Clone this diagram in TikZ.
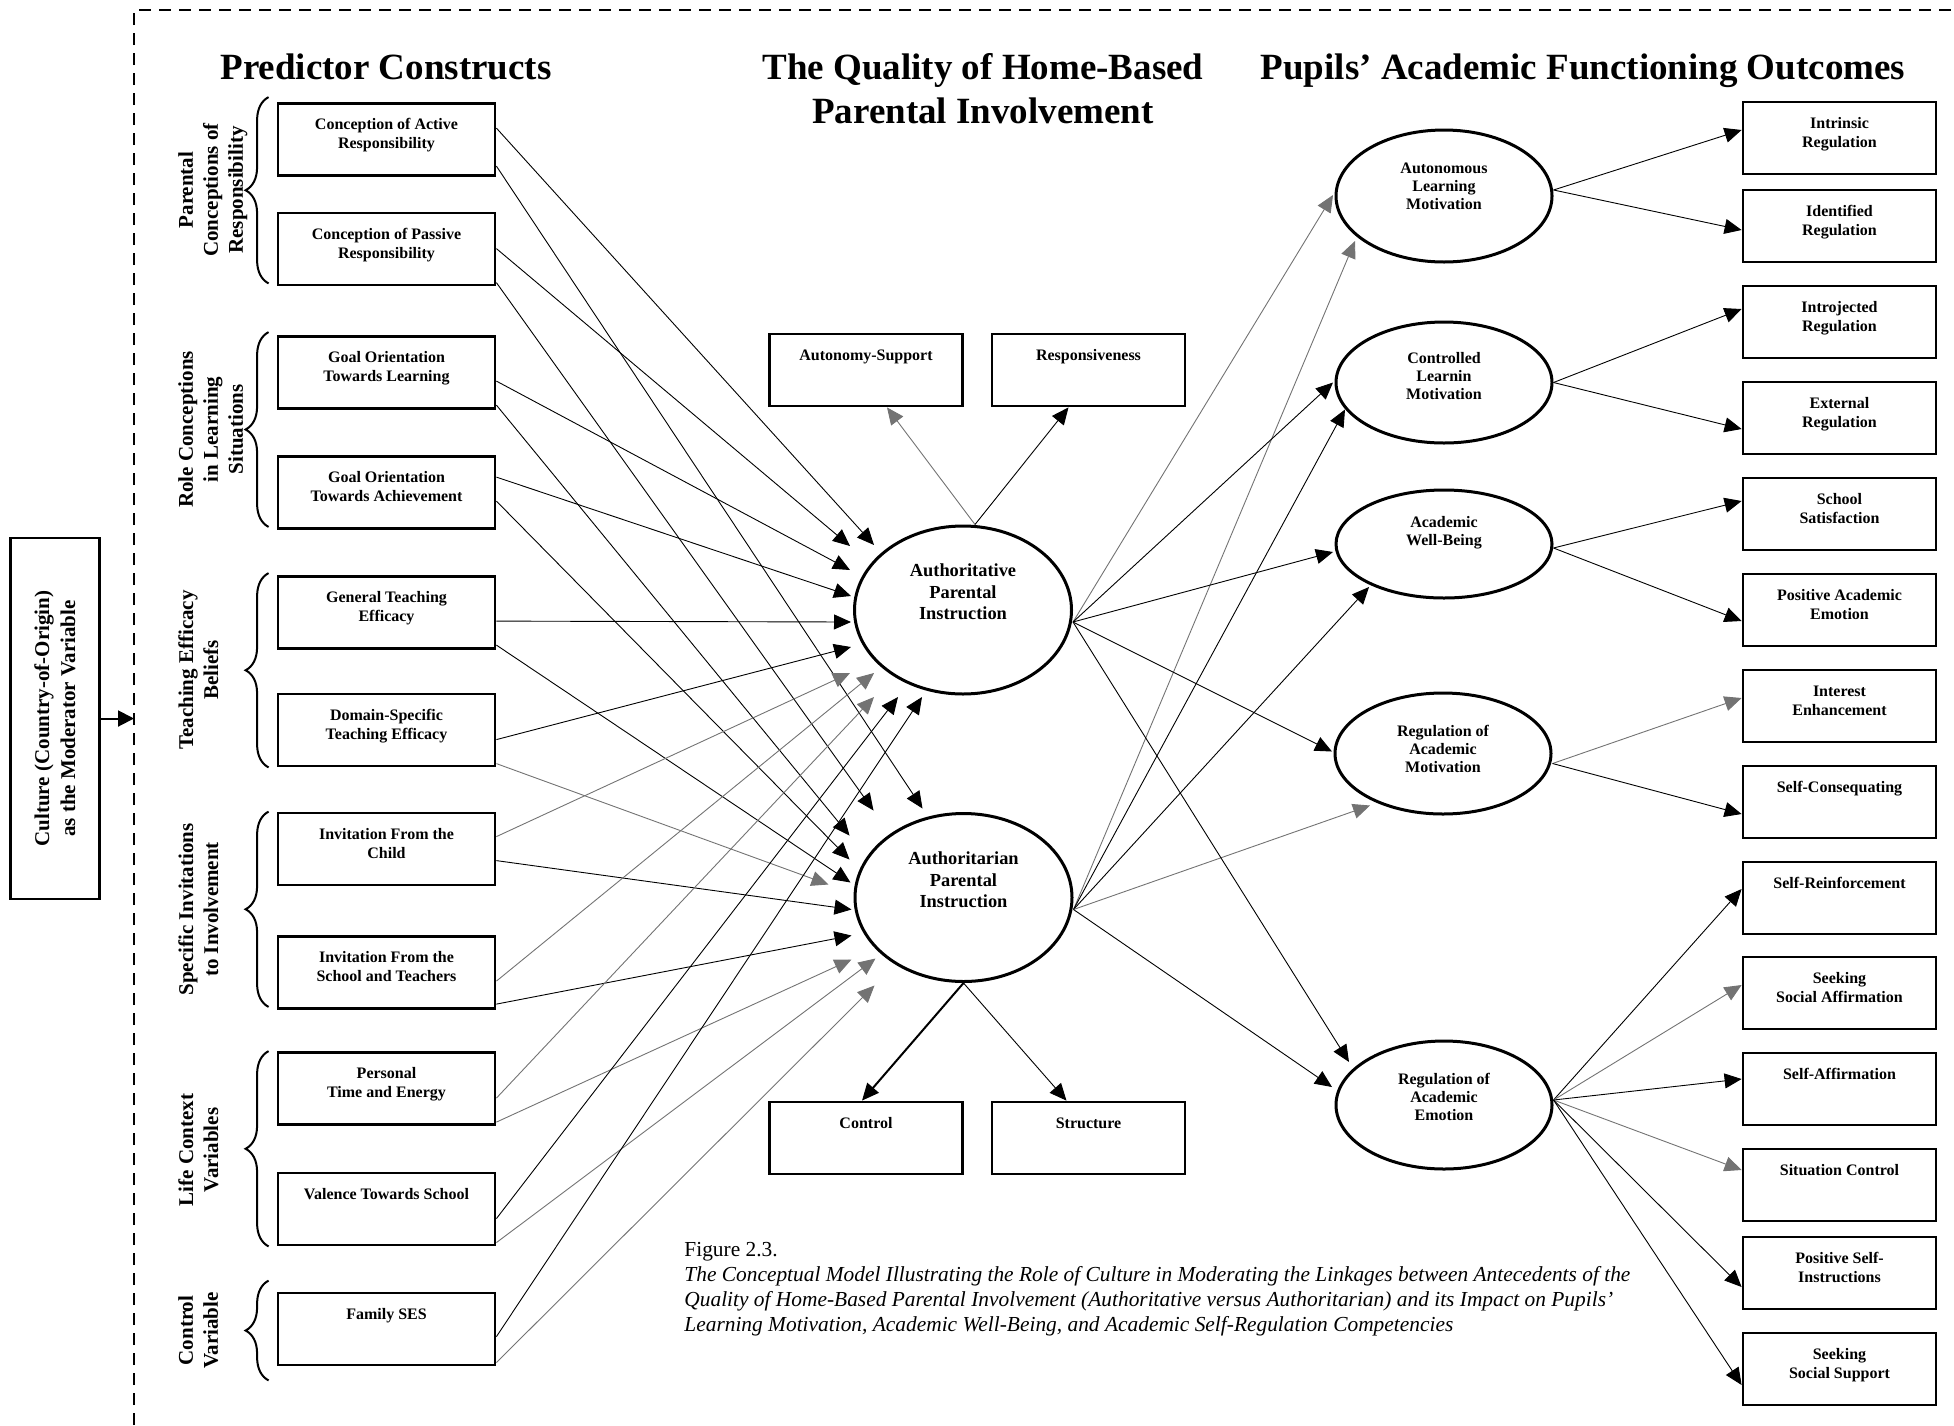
\documentclass[tikz,border=0pt]{standalone}
\usepackage{fontspec}
\setmainfont{Liberation Serif}
\usetikzlibrary{arrows.meta,positioning,calc,shapes.geometric,decorations.pathreplacing}

\begin{document}
\begin{tikzpicture}[x=0.5pt,y=-0.5pt,
    boxed/.style={draw,line width=1.4pt,inner sep=0pt,
      font=\bfseries\fontsize{8}{9.5}\selectfont,
      execute at begin node={\begin{minipage}[c][36pt][t]{#1}\centering\rule{0pt}{13pt}},
      execute at end node={\end{minipage}}},
    pbox/.style={boxed=108.5pt},
    obox/.style={boxed=96.5pt},
    bigell/.style={ellipse,draw,line width=1.5pt,inner sep=0pt,
      minimum width=108.5pt,minimum height=84pt},
    smell/.style={ellipse,draw,line width=1.5pt,inner sep=0pt,
      minimum width=108pt,minimum height=#1},
    biglbl/.style={font=\bfseries\fontsize{9.2}{10.8}\selectfont,align=center,inner sep=0pt},
    smlbl/.style={font=\bfseries\fontsize{8}{9}\selectfont,align=center,inner sep=0pt},
    ttl/.style={font=\bfseries\fontsize{18.5}{22}\selectfont,align=center,inner sep=0pt},
    grp/.style={rotate=90,anchor=north,align=center,inner sep=0pt,
      font=\bfseries\fontsize{10.5}{12.5}\selectfont},
    modbox/.style={draw,line width=1.4pt,rotate=90,minimum width=180.5pt,
      minimum height=44.5pt,align=center,inner sep=0pt,
      font=\bfseries\fontsize{10.5}{13}\selectfont},
    brc/.style={decorate,decoration={brace,amplitude=11.5pt},line width=1pt},
    link/.style={-{Triangle[length=8.5pt,width=7.5pt]},line width=0.45pt},
    faint/.style={link,draw=black!55},
    frame/.style={dash pattern=on 6pt off 4pt,line width=1pt},
  ]
  \useasboundingbox (0,0) rectangle (1954,1425);

  % moderator frame
  \draw[frame] (134,1425) -- (134,10) -- (1954,10);
  \node[modbox] (cul) at (55,718.5) {Culture (Country-of-Origin)\\as the Moderator Variable};
  \coordinate (mod) at (134,718.5);
  \draw[link,line width=1pt,-{Triangle[length=8pt,width=8pt]}] (cul.south) -- (mod);

  % titles
  \node[ttl,anchor=base] (t1) at (386,79) {Predictor Constructs};
  \node[ttl,anchor=north] (t2) at (983,53) {The Quality of Home-Based\\Parental Involvement};
  \node[ttl,anchor=base] (t3) at (1583,79) {Pupils’ Academic Functioning Outcomes};

  % predictor constructs
  \node[pbox] (b1) at (386.5,139.5) {Conception of Active\\Responsibility};
  \node[pbox] (b2) at (386.5,249) {Conception of Passive\\Responsibility};
  \node[pbox] (b3) at (386.5,372.5) {Goal Orientation\\Towards Learning};
  \node[pbox] (b4) at (386.5,492.5) {Goal Orientation\\Towards Achievement};
  \node[pbox] (b5) at (386.5,612.5) {General Teaching\\Efficacy};
  \node[pbox] (b6) at (386.5,730) {Domain-Specific\\Teaching Efficacy};
  \node[pbox] (b7) at (386.5,849) {Invitation From the\\Child};
  \node[pbox] (b8) at (386.5,972.5) {Invitation From the\\School and Teachers};
  \node[pbox] (b9) at (386.5,1088.5) {Personal\\Time and Energy};
  \node[pbox] (b10) at (386.5,1209) {Valence Towards School};
  \node[pbox] (b11) at (386.5,1329) {Family SES};

  % groups
  \draw[brc] ($(b2.south west)+(-8,-3)$) -- ($(b1.north west)+(-8,-5)$);
  \draw[brc] ($(b4.south west)+(-8,-3)$) -- ($(b3.north west)+(-8,-3)$);
  \draw[brc] ($(b6.south west)+(-8,0)$) -- ($(b5.north west)+(-8,-2)$);
  \draw[brc] ($(b8.south west)+(-8,-3)$) -- ($(b7.north west)+(-8,0)$);
  \draw[brc] ($(b10.south west)+(-8,0)$) -- ($(b9.north west)+(-8,0)$);
  \draw[brc] ($(b11.south west)+(-8,14)$) -- ($(b11.north west)+(-8,-11)$);
  \node[grp] (g1) at (178,190) {Parental\\Conceptions of\\Responsibility};
  \node[grp] (g2) at (178,429.5) {Role Conceptions\\in Learning\\Situations};
  \node[grp] (g3) at (178,670) {Teaching Efficacy\\Beliefs};
  \node[grp] (g4) at (178,909.5) {Specific Invitations\\to Involvement};
  \node[grp] (g5) at (178,1150) {Life Context\\Variables};
  \node[grp] (g6) at (178,1330.5) {Control\\Variable};

  % quality of involvement
  \node[bigell,label={[biglbl,yshift=9pt]center:{Authoritative\\Parental\\Instruction}}] (ath) at (963,610) {};
  \node[bigell,label={[biglbl,yshift=8.75pt]center:{Authoritarian\\Parental\\Instruction}}] (atn) at (963.5,897.5) {};
  \node[obox] (aut) at (866,370) {Autonomy-Support};
  \node[obox] (rsp) at (1088.5,370) {Responsiveness};
  \node[obox] (ctl) at (866,1138) {Control};
  \node[obox] (str) at (1088.5,1138) {Structure};

  % academic functioning outcomes
  \node[smell=66pt,label={[smlbl,yshift=5pt]center:{Autonomous\\Learning\\Motivation}}] (l1) at (1444,196) {};
  \node[smell=60.5pt,label={[smlbl,yshift=3pt]center:{Controlled\\Learnin\\Motivation}}] (l2) at (1444,382.5) {};
  \node[smell=54pt,label={[smlbl,yshift=5.5pt]center:{Academic\\Well-Being}}] (l3) at (1444,544) {};
  \node[smell=60.5pt,label={[smlbl,yshift=2.5pt]center:{Regulation of\\Academic\\Motivation}}] (l4) at (1443,753.5) {};
  \node[smell=64pt,label={[smlbl,yshift=4pt]center:{Regulation of\\Academic\\Emotion}}] (l5) at (1444,1105) {};

  \node[obox] (r1) at (1839.5,138) {Intrinsic\\Regulation};
  \node[obox] (r2) at (1839.5,226) {Identified\\Regulation};
  \node[obox] (r3) at (1839.5,322) {Introjected\\Regulation};
  \node[obox] (r4) at (1839.5,418) {External\\Regulation};
  \node[obox] (r5) at (1839.5,514) {School\\Satisfaction};
  \node[obox] (r6) at (1839.5,610) {Positive Academic\\Emotion};
  \node[obox] (r7) at (1839.5,706) {Interest\\Enhancement};
  \node[obox] (r8) at (1839.5,802) {Self-Consequating};
  \node[obox] (r9) at (1839.5,898) {Self-Reinforcement};
  \node[obox] (r10) at (1839.5,993) {Seeking\\Social Affirmation};
  \node[obox] (r11) at (1839.5,1089) {Self-Affirmation};
  \node[obox] (r12) at (1839.5,1185) {Situation Control};
  \node[obox] (r13) at (1839.5,1273) {Positive Self-\\Instructions};
  \node[obox] (r14) at (1839.5,1369) {Seeking\\Social Support};

  % predictors -> quality
  \draw[link] ($(b1.north east)+(0,26)$) -- ($(ath)+(-89,-65)$);
  \draw[link] ($(b1.north east)+(0,64)$) -- ($(atn)+(-41,-89)$);
  \draw[link] ($(b2.north east)+(0,37)$) -- ($(ath)+(-113,-64)$);
  \draw[link] ($(b2.north east)+(0,71)$) -- ($(atn)+(-90,-87)$);
  \draw[link] ($(b3.north east)+(0,46)$) -- ($(ath)+(-113,-40)$);
  \draw[link] ($(b3.north east)+(0,70)$) -- ($(atn)+(-114,-62)$);
  \draw[link] ($(b4.north east)+(0,22)$) -- ($(ath)+(-112,-14)$);
  \draw[link] ($(b4.north east)+(0,46)$) -- ($(atn)+(-114,-38)$);
  \draw[link] ($(b5.north east)+(0,46)$) -- ($(ath)+(-112,12)$);
  \draw[link] ($(b5.north east)+(0,70)$) -- ($(atn)+(-113,-15)$);
  \draw[link] ($(b6.north east)+(0,47)$) -- ($(ath)+(-112,37)$);
  \draw[faint] ($(b6.north east)+(0,71)$) -- ($(atn)+(-135,-13)$);
  \draw[faint] ($(b7.north east)+(0,25)$) -- ($(ath)+(-113,63)$);
  \draw[link] ($(b7.north east)+(0,49)$) -- ($(atn)+(-112,12)$);
  \draw[faint] ($(b8.north east)+(0,46)$) -- ($(ath)+(-89,63)$);
  \draw[link] ($(b8.north east)+(0,69)$) -- ($(atn)+(-112,38)$);
  \draw[faint] ($(b9.north east)+(0,47)$) -- ($(ath)+(-89,87)$);
  \draw[faint] ($(b9.north east)+(0,71)$) -- ($(atn)+(-112,62)$);
  \draw[link] ($(b10.north east)+(0,47)$) -- ($(ath)+(-65,87)$);
  \draw[faint] ($(b10.north east)+(0,71)$) -- ($(atn)+(-88,61)$);
  \draw[link] ($(b11.north east)+(0,45)$) -- ($(ath)+(-41,87)$);
  \draw[faint] ($(b11.north east)+(0,71)$) -- ($(atn)+(-89,88)$);

  % dimensions of the two styles
  \draw[faint] ($(ath.north)+(12,0)$) -- ($(aut.south)+(21,0)$);
  \draw[link] ($(ath.north)+(12,0)$) -- ($(rsp.south)+(-20,0)$);
  \draw[link,line width=1pt] (atn.south) -- ($(ctl.north)+(-4,0)$);
  \draw[link] (atn.south) -- ($(str.north)+(-22,0)$);

  % quality -> outcomes
  \draw[faint] ($(ath.east)+(0,12)$) -- ($(l1)+(-111,-1)$);
  \draw[faint] ($(atn.east)+(0,12)$) -- ($(l1)+(-89,45)$);
  \draw[link] ($(ath.east)+(0,12)$) -- ($(l2)+(-111,0)$);
  \draw[link] ($(atn.east)+(0,12)$) -- ($(l2)+(-99,27)$);
  \draw[link] ($(ath.east)+(0,12)$) -- ($(l3)+(-111,8)$);
  \draw[link] ($(atn.east)+(0,12)$) -- ($(l3)+(-75,43)$);
  \draw[link] ($(ath.east)+(0,12)$) -- ($(l4)+(-111,-2)$);
  \draw[faint] ($(atn.east)+(0,12)$) -- ($(l4)+(-73,52)$);
  \draw[link] ($(ath.east)+(0,12)$) -- ($(l5)+(-95,-43)$);
  \draw[link] ($(atn.east)+(0,12)$) -- ($(l5)+(-112,-18)$);

  % outcomes -> indicators
  \draw[link] ($(l1.east)+(0,-6)$) -- ($(r1.west)+(0,-8)$);
  \draw[link] ($(l1.east)+(0,-6)$) -- ($(r2.west)+(0,4)$);
  \draw[link] (l2.east) -- ($(r3.west)+(0,-13)$);
  \draw[link] (l2.east) -- ($(r4.west)+(0,11)$);
  \draw[link] ($(l3.east)+(0,4)$) -- ($(r5.west)+(0,-13)$);
  \draw[link] ($(l3.east)+(0,4)$) -- ($(r6.west)+(0,11)$);
  \draw[faint] ($(l4.east)+(0,10)$) -- ($(r7.west)+(0,-8)$);
  \draw[link] ($(l4.east)+(0,10)$) -- ($(r8.west)+(0,12)$);
  \draw[link] ($(l5.east)+(0,-5)$) -- ($(r9.west)+(0,-9)$);
  \draw[faint] ($(l5.east)+(0,-5)$) -- ($(r10.west)+(0,-8)$);
  \draw[link] ($(l5.east)+(0,-5)$) -- ($(r11.west)+(0,-10)$);
  \draw[faint] ($(l5.east)+(0,-5)$) -- ($(r12.west)+(0,-15)$);
  \draw[link] ($(l5.east)+(0,-5)$) -- ($(r13.west)+(0,14)$);
  \draw[link] ($(l5.east)+(0,-5)$) -- ($(r14.west)+(0,16)$);

  % caption
  \node[anchor=north west,align=left,inner sep=0pt,font=\fontsize{10.7}{12.5}\selectfont] (cap) at (684,1242)
    {Figure 2.3.\\
     \textit{The Conceptual Model Illustrating the Role of Culture in Moderating the Linkages between Antecedents of the}\\
     \textit{Quality of Home-Based Parental Involvement (Authoritative versus Authoritarian) and its Impact on Pupils’}\\
     \textit{Learning Motivation, Academic Well-Being, and Academic Self-Regulation Competencies}};
\end{tikzpicture}
\end{document}
